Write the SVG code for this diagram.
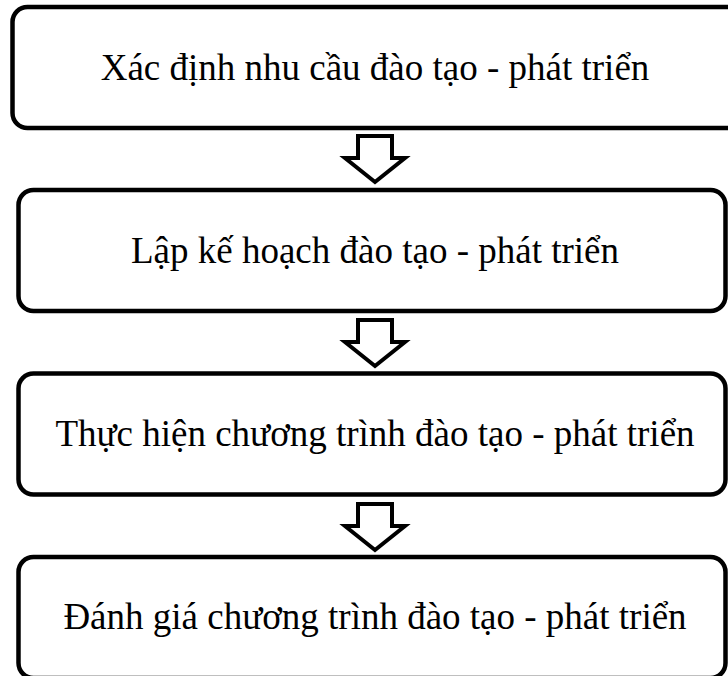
<svg xmlns="http://www.w3.org/2000/svg" width="728" height="676" viewBox="0 0 728 676">
<style>
.box{fill:#fff;stroke:#000;stroke-width:4.5}
.arr{fill:#fff;stroke:#000;stroke-width:4;stroke-linejoin:miter}
.t{font-family:"Liberation Serif","Times New Roman",serif;font-size:37px;fill:#000;text-anchor:middle}
</style>
<rect width="728" height="676" fill="#fff"/>
<g id="connectors">
<path class="arr" d="M358,136 L392,136 L392,158 L405,158 L375,182 L345,158 L358,158 Z"/>
<path class="arr" d="M358,320 L392,320 L392,342 L405,342 L375,366 L345,342 L358,342 Z"/>
<path class="arr" d="M358,504 L392,504 L392,526 L405,526 L375,550 L345,526 L358,526 Z"/>
</g>
<g id="n1"><rect class="box" x="12.5" y="7" width="730" height="121" rx="15"/><text class="t" x="375" y="80">Xác định nhu cầu đào tạo - phát triển</text></g>
<g id="n2"><rect class="box" x="18.5" y="190" width="707" height="121" rx="15"/><text class="t" x="375" y="263">Lập kế hoạch đào tạo - phát triển</text></g>
<g id="n3"><rect class="box" x="18.5" y="373.5" width="707" height="121" rx="15"/><text class="t" x="375" y="446">Thực hiện chương trình đào tạo - phát triển</text></g>
<g id="n4"><rect class="box" x="18.5" y="557" width="707" height="121" rx="15"/><text class="t" x="375" y="629">Đánh giá chương trình đào tạo - phát triển</text></g>
</svg>
